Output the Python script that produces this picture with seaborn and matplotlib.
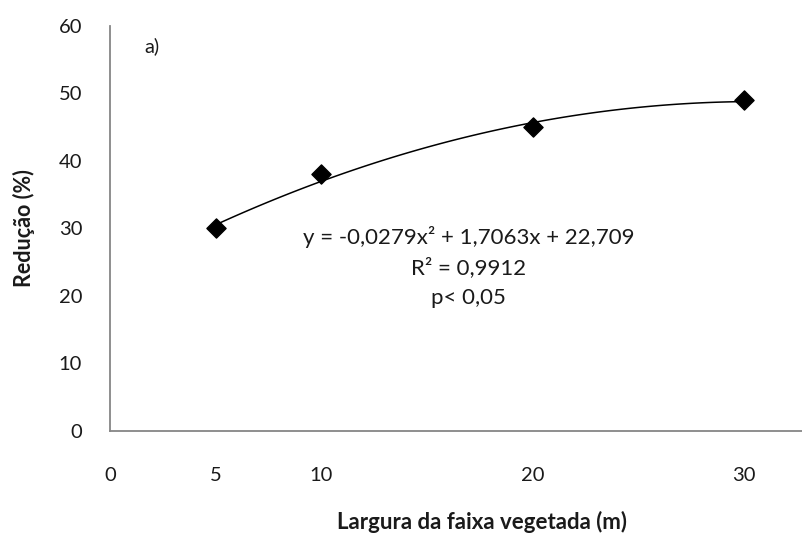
import seaborn as sns
import matplotlib.pyplot as plt
import pandas as pd

# data
largura = [5, 10, 20, 30]
reducao = [30, 38, 45, 49]
x_ticks = [0, 5, 10, 20, 30]
y_ticks = [0, 10, 20, 30, 40, 50, 60]

df = pd.DataFrame({'Largura': largura, 'Reducao': reducao})

sns.set_theme(style="white")
plt.rcParams['font.family'] = ['Lato', 'DejaVu Sans']

fs = 14.5
txt = '#1a1a1a'

fig = plt.figure(figsize=(8.03, 5.42), dpi=100)
ax = fig.add_axes([0.137, 0.205, 0.863, 0.747])

# quadratic trend + points
sns.regplot(data=df, x='Largura', y='Reducao', order=2, ci=None, ax=ax,
            marker='D', color='black',
            scatter_kws={'s': 95, 'alpha': 1, 'zorder': 3},
            line_kws={'lw': 1.1, 'color': 'black'})

ax.set_xlim(0, 32.8)
ax.set_ylim(0, 60)
ax.set_xticks(x_ticks)
ax.set_yticks(y_ticks)
ax.tick_params(axis='x', length=0, pad=26, labelsize=fs, colors=txt)
ax.tick_params(axis='y', length=0, pad=20, labelsize=fs, colors=txt)

for side in ['top', 'right']:
    ax.spines[side].set_visible(False)
for side in ['left', 'bottom']:
    ax.spines[side].set_color('#868686')
    ax.spines[side].set_linewidth(1.3)

ax.set_xlabel("Largura da faixa vegetada (m)", fontsize=16, weight='bold', color=txt)
ax.set_ylabel("Redução (%)", fontsize=15.5, weight='bold', color=txt)
ax.xaxis.set_label_coords(0.537, -0.198)
ax.yaxis.set_label_coords(-0.108, 0.5)

# equation and stats
ax.text(0.517, 0.478, "y = -0,0279x² + 1,7063x + 22,709", transform=ax.transAxes,
        ha='center', va='center', fontsize=16, color=txt)
ax.text(0.517, 0.402, "R² = 0,9912", transform=ax.transAxes,
        ha='center', va='center', fontsize=16, color=txt)
ax.text(0.517, 0.328, "p< 0,05", transform=ax.transAxes,
        ha='center', va='center', fontsize=16, color=txt)
ax.text(0.05, 0.95, "a)", transform=ax.transAxes,
        ha='left', va='center', fontsize=fs, color=txt)

plt.savefig('out.png', dpi=100)
